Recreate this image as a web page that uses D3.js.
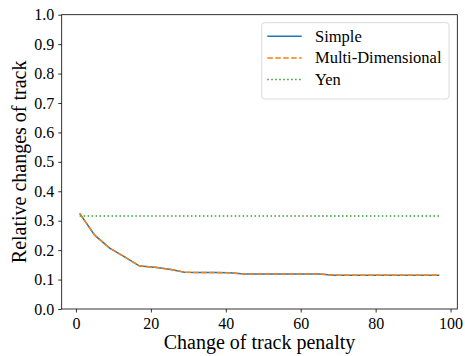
<!DOCTYPE html>
<html><head><meta charset="utf-8">
<script src="https://cdn.jsdelivr.net/npm/d3@7"></script>
<style>body{margin:0;background:#fff}svg{display:block}</style>
</head><body><svg id="c" width="465" height="356"></svg>
<script>
const penalty = [1,5,9,13,17,21,25,29,33,37,41,45,49,53,57,61,65,69,73,77,81,85,89,93,97];
const simple = [0.325,0.251,0.207,0.177,0.146,0.142,0.135,0.125,0.124,0.124,0.123,0.119,0.119,0.119,0.119,0.119,0.119,0.115,0.115,0.115,0.115,0.115,0.115,0.115,0.115];
const multiDim = [0.325,0.251,0.207,0.177,0.146,0.142,0.135,0.125,0.124,0.124,0.123,0.119,0.119,0.119,0.119,0.119,0.119,0.115,0.115,0.115,0.115,0.115,0.115,0.115,0.115];
const yen = [0.316,0.316,0.316,0.316,0.316,0.316,0.316,0.316,0.316,0.316,0.316,0.316,0.316,0.316,0.316,0.316,0.316,0.316,0.316,0.316,0.316,0.316,0.316,0.316,0.316];
const xTicks = [0,20,40,60,80,100];
const yTicks = [0,0.1,0.2,0.3,0.4,0.5,0.6,0.7,0.8,0.9,1.0];
const seriesNames = ["Simple","Multi-Dimensional","Yen"];

const FONT="'Liberation Serif','Times New Roman',serif";
const L=61.7,R=457.3,T=14.7,B=309;
const svg=d3.select("#c");
const x=d3.scaleLinear().domain([-3.8,101.8]).range([L,R]);
const y=d3.scaleLinear().domain([0,1]).range([B,T]);

const series=[
 {name:seriesNames[0],vals:simple,color:"#1f77b4",dash:null},
 {name:seriesNames[1],vals:multiDim,color:"#ff7f0e",dash:"5.55,2.4"},
 {name:seriesNames[2],vals:yen,color:"#2ca02c",dash:"1.5,2.475"}
];
const line=d3.line().x(d=>x(d[0])).y(d=>y(d[1]));
series.forEach(s=>{
  svg.append("path").datum(penalty.map((p,i)=>[p,s.vals[i]]))
   .attr("d",line).attr("fill","none").attr("stroke",s.color).attr("stroke-width",1.5)
   .attr("stroke-dasharray",s.dash);
});

const xa=svg.append("g").attr("transform",`translate(0,${B})`)
 .call(d3.axisBottom(x).tickValues(xTicks).tickSize(3.5).tickPadding(5).tickFormat(d3.format("d")));
const ya=svg.append("g").attr("transform",`translate(${L},0)`)
 .call(d3.axisLeft(y).tickValues(yTicks).tickSize(3.5).tickPadding(4).tickFormat(d3.format(".1f")));
[xa,ya].forEach(a=>{a.attr("font-family",null).attr("font-size",null);a.select(".domain").remove();
 a.selectAll("text").style("font-family",FONT).style("font-size","16px").attr("fill","#000");
 a.selectAll("line").attr("stroke","#000").attr("stroke-width",0.8);});

svg.append("rect").attr("x",L).attr("y",T).attr("width",R-L).attr("height",B-T)
 .attr("fill","none").attr("stroke","#000").attr("stroke-width",0.8);

svg.append("text").attr("x",(L+R)/2).attr("y",349).attr("text-anchor","middle")
 .style("font-family",FONT).style("font-size","20px").text("Change of track penalty");
svg.append("text").attr("transform",`translate(25.5,${(T+B)/2}) rotate(-90)`).attr("text-anchor","middle")
 .style("font-family",FONT).style("font-size","20px").text("Relative changes of track");

const lg=svg.append("g");
lg.append("rect").attr("x",261.7).attr("y",22.7).attr("width",187.3).attr("height",76.3).attr("rx",3)
 .attr("fill","#fff").attr("fill-opacity",0.8).attr("stroke","#d0d0d0").attr("stroke-width",0.8);
series.forEach((s,i)=>{
  const base=41.7+i*21.7;
  const cy=base-5.5;
  lg.append("line").attr("x1",267.3).attr("x2",301.7).attr("y1",cy).attr("y2",cy)
   .attr("stroke",s.color).attr("stroke-width",1.5).attr("stroke-dasharray",s.dash);
  lg.append("text").attr("x",315).attr("y",base).style("font-family",FONT).style("font-size","16.5px").text(s.name);
});
</script></body></html>
